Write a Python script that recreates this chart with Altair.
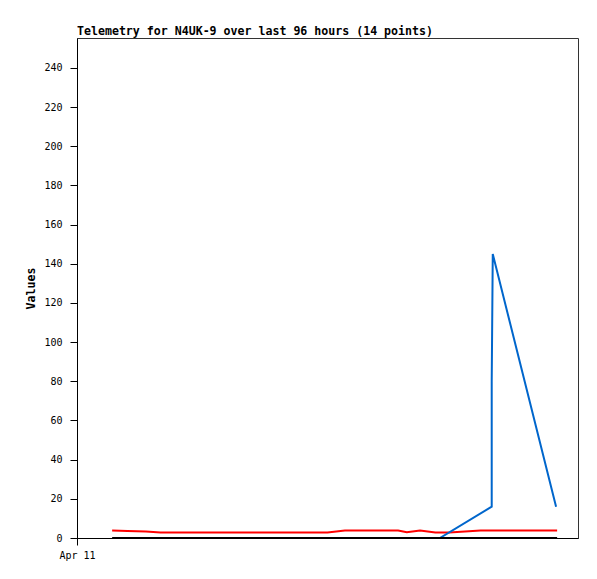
import altair as alt
import pandas as pd

# Telemetry series (time on Apr 11, value)
red_times = ["01:41", "02:25", "03:18", "04:00", "12:00", "12:50", "15:23",
             "15:48", "16:26", "17:10", "17:50", "19:20", "23:00"]
red_values = [3.8, 3.6, 3.3, 2.8, 2.8, 3.8, 3.8, 2.9, 3.8, 2.8, 2.8, 3.8, 3.8]

blue_times = ["17:23", "19:52", "19:52", "19:55", "22:57"]
blue_values = [0, 16, 80, 145, 16]

black_times = ["01:41", "23:00"]
black_values = [0, 0]

series_names = ["red", "blue", "black"]
series_colors = ["#ff0000", "#0066cc", "#000000"]

rows = []
for name, times, vals in [("red", red_times, red_values),
                          ("blue", blue_times, blue_values),
                          ("black", black_times, black_values)]:
    for i, (t, v) in enumerate(zip(times, vals)):
        rows.append({"series": name, "time": f"2024-04-11T{t}:00",
                     "value": v, "idx": i})
df = pd.DataFrame(rows)

font = "DejaVu Sans Mono"

chart = alt.Chart(df).mark_line(strokeWidth=2, clip=True).encode(
    x=alt.X("time:T",
            scale=alt.Scale(domain=[alt.DateTime(year=2024, month=4, date=11, hours=0),
                                    alt.DateTime(year=2024, month=4, date=12, hours=0)]),
            axis=alt.Axis(title=None, values=[alt.DateTime(year=2024, month=4, date=11, hours=0)],
                          format="%b %d", grid=False, tickSize=7, labelPadding=5,
                          labelAlign="center", labelFlush=False,
                          domainColor="#000", tickColor="#000", labelFont=font,
                          labelFontSize=10, labelColor="#000")),
    y=alt.Y("value:Q",
            scale=alt.Scale(domain=[0, 255.3], nice=False, zero=True),
            axis=alt.Axis(title="Values", values=list(range(0, 241, 20)), grid=False,
                          tickSize=7, labelPadding=8, domainColor="#000", tickColor="#000",
                          labelFont=font, labelFontSize=10, labelColor="#000",
                          titleFont=font, titleFontSize=11.6, titleFontWeight="bold",
                          titleColor="#000", titleAngle=-90, titleX=-46, titleY=250,
                          titleBaseline="middle", titleAlign="center")),
    color=alt.Color("series:N", scale=alt.Scale(domain=series_names, range=series_colors),
                    legend=None),
    order="idx:Q",
).properties(
    width=501, height=500,
    title=alt.TitleParams("Telemetry for N4UK-9 over last 96 hours (14 points)",
                          anchor="start", frame="group", font=font, fontSize=11.6,
                          fontWeight="bold", color="#000", baseline="alphabetic",
                          offset=3, dy=12),
    autosize=alt.AutoSizeParams(type="none"),
    padding={"left": 69, "top": 30, "right": 11, "bottom": 33},
    view=alt.ViewBackground(stroke="#333333", strokeWidth=1, strokeOpacity=1),
).configure(background="white")

chart.save("out.html", embed_options={"renderer": "svg", "actions": False})
